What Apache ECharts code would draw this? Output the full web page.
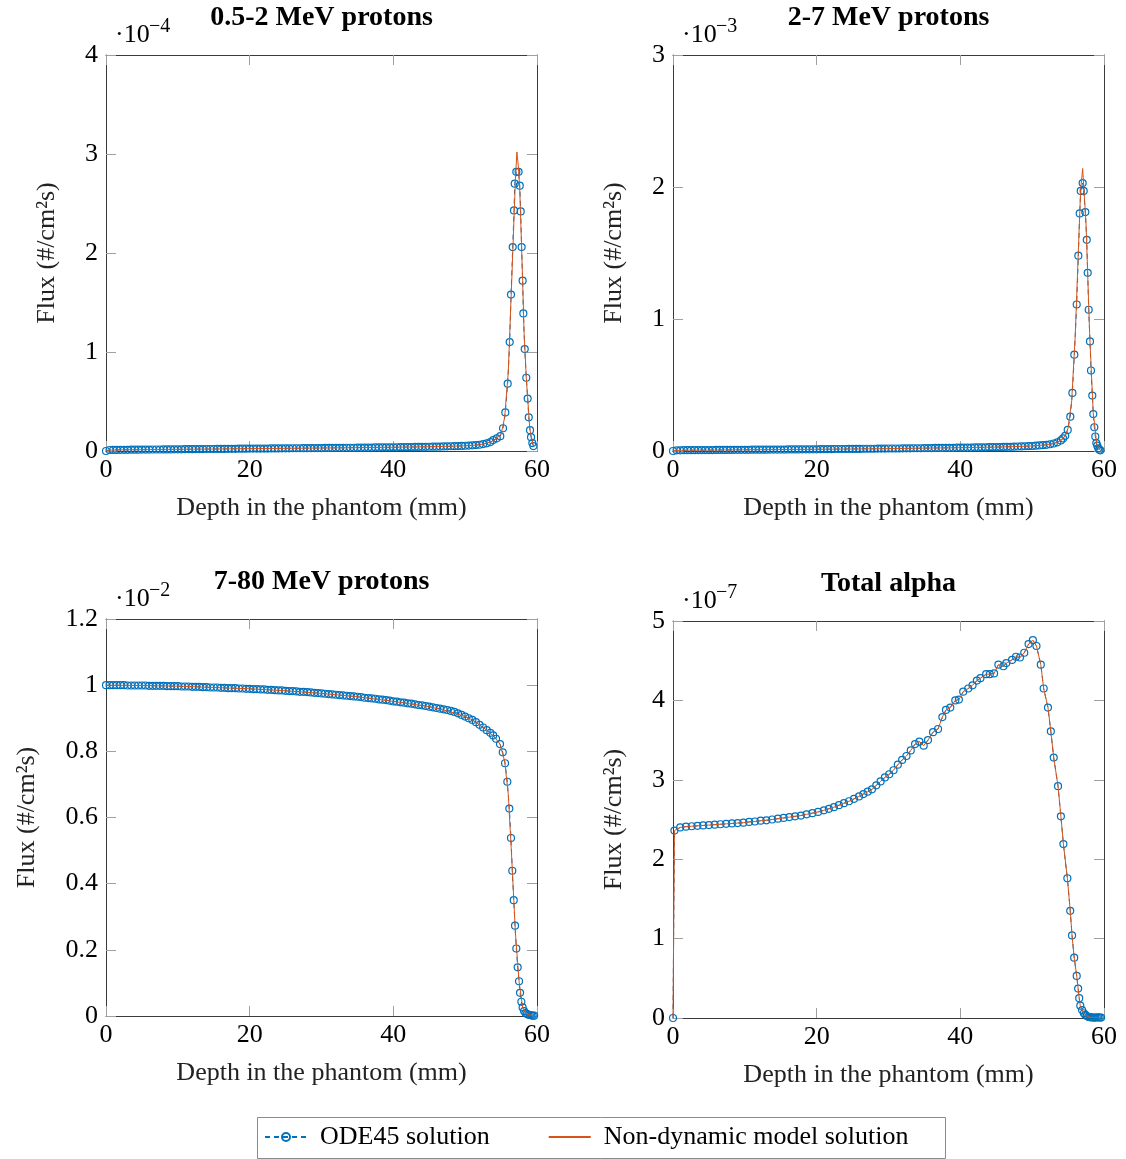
<!DOCTYPE html>
<html>
<head>
<meta charset="utf-8">
<script src="https://cdn.jsdelivr.net/npm/echarts@6/dist/echarts.min.js"></script>
<style>
html,body{margin:0;padding:0;background:#fff;}
#chart{width:1126px;height:1159px;}
</style>
</head>
<body>
<div id="chart"></div>
<script>
// ---------- DATA ----------
const titles = ['0.5-2 MeV protons', '2-7 MeV protons', '7-80 MeV protons', 'Total alpha'];
const exponents = ['\u22124', '\u22123', '\u22122', '\u22127'];
const yMax = [4, 3, 1.2, 5];
const yInterval = [1, 1, 0.2, 1];
const xTicks = [0, 20, 40, 60];

// shared plateau depths (mm) for the three proton panels
const plateauDepth = [0,0.5,1,1.5,2,2.5,3,3.5,4,4.5,5,5.5,6,6.5,7,7.5,8,8.5,9,9.5,10,10.5,11,11.5,12,12.5,13,13.5,14,14.5,15,15.5,16,16.5,17,17.5,18,18.5,19,19.5,20,20.5,21,21.5,22,22.5,23,23.5,24,24.5,25,25.5,26,26.5,27,27.5,28,28.5,29,29.5,30,30.5,31,31.5,32,32.5,33,33.5,34,34.5,35,35.5,36,36.5,37,37.5,38,38.5,39,39.5,40,40.5,41,41.5,42,42.5,43,43.5,44,44.5,45,45.5,46,46.5,47,47.5,48,48.5,49,49.5,50,50.5,51,51.5,52];

// Panel 1: 0.5-2 MeV protons (x1e-4)
const p1PlateauFlux = [0.000,
 0.010,0.011,0.011,0.012,0.012,0.012,0.013,0.013,0.013,0.014,
 0.014,0.014,0.015,0.015,0.015,0.016,0.016,0.016,0.017,0.017,
 0.017,0.018,0.018,0.018,0.019,0.019,0.019,0.020,0.020,0.020,
 0.021,0.021,0.021,0.022,0.022,0.022,0.023,0.023,0.023,0.024,
 0.024,0.024,0.025,0.025,0.025,0.026,0.026,0.026,0.027,0.027,
 0.027,0.028,0.028,0.028,0.029,0.029,0.029,0.030,0.030,0.030,
 0.031,0.031,0.031,0.032,0.032,0.032,0.033,0.033,0.033,0.034,
 0.034,0.035,0.035,0.035,0.036,0.036,0.037,0.037,0.037,0.038,
 0.038,0.039,0.039,0.040,0.040,0.041,0.041,0.042,0.042,0.043,
 0.044,0.044,0.045,0.046,0.047,0.048,0.049,0.050,0.051,0.053,
 0.055,0.057,0.060,0.063];
const p1TailDepth = [52.5,53,53.5,53.9,54.4,54.89,55.27,55.59,55.92,56.2,56.38,56.62,56.8,56.9,57.12,57.44,57.6,57.73,57.86,58.0,58.1,58.29,58.51,58.7,58.85,59.03,59.17,59.35,59.5];
const p1TailFlux = [0.070,0.078,0.090,0.110,0.128,0.150,0.230,0.390,0.680,1.100,1.580,2.060,2.430,2.700,2.820,2.820,2.680,2.420,2.060,1.720,1.390,1.030,0.740,0.530,0.340,0.210,0.140,0.080,0.050];
const p1ModelDepth = [0,2,5,10,15,20,25,30,35,40,45,48,50,51,52,53,54,54.5,55,55.5,56,56.5,57,57.2,57.4,57.6,58,58.2,58.5,59,59.5];
const p1ModelFlux = [0.008,0.011,0.014,0.017,0.020,0.024,0.027,0.030,0.034,0.038,0.043,0.048,0.053,0.057,0.063,0.078,0.105,0.135,0.170,0.340,0.800,1.750,2.750,3.020,2.880,2.640,1.720,1.200,0.750,0.220,0.050];

// Panel 2: 2-7 MeV protons (x1e-3)
const p2PlateauFlux = [0.000,
 0.005,0.005,0.006,0.006,0.006,0.006,0.007,0.007,0.007,0.007,
 0.007,0.008,0.008,0.008,0.008,0.008,0.009,0.009,0.009,0.009,
 0.009,0.010,0.010,0.010,0.010,0.010,0.011,0.011,0.011,0.011,
 0.011,0.012,0.012,0.012,0.012,0.013,0.013,0.013,0.013,0.013,
 0.014,0.014,0.014,0.014,0.015,0.015,0.015,0.015,0.016,0.016,
 0.016,0.016,0.017,0.017,0.017,0.017,0.018,0.018,0.018,0.019,
 0.019,0.019,0.019,0.020,0.020,0.020,0.021,0.021,0.021,0.022,
 0.022,0.022,0.023,0.023,0.023,0.024,0.024,0.024,0.025,0.025,
 0.026,0.026,0.026,0.027,0.027,0.028,0.028,0.029,0.029,0.030,
 0.030,0.031,0.032,0.032,0.033,0.034,0.035,0.036,0.037,0.038,
 0.040,0.042,0.044,0.047];
const p2TailDepth = [52.5,53,53.5,54,54.3,54.6,54.95,55.31,55.6,55.87,56.2,56.43,56.62,56.76,57.03,57.17,57.4,57.6,57.73,57.87,58.05,58.19,58.37,58.51,58.65,58.79,58.93,59.07,59.2,59.35,59.5];
const p2TailFlux = [0.051,0.057,0.066,0.080,0.095,0.115,0.160,0.260,0.440,0.730,1.110,1.480,1.800,1.970,2.030,1.970,1.810,1.600,1.350,1.070,0.830,0.610,0.420,0.280,0.180,0.110,0.060,0.040,0.020,0.010,0.005];
const p2ModelDepth = [0,2,5,10,15,20,25,30,35,40,45,48,50,52,53,54,54.6,55,55.5,56,56.5,56.75,57.03,57.5,58,58.5,59,59.5];
const p2ModelFlux = [0.004,0.006,0.007,0.009,0.011,0.013,0.015,0.018,0.022,0.025,0.030,0.034,0.038,0.047,0.057,0.080,0.115,0.175,0.380,0.880,1.620,1.980,2.140,1.720,0.890,0.290,0.050,0.005];

// Panel 3: 7-80 MeV protons (x1e-2)
const p3PlateauFlux = [1.000,
 1.000,1.000,1.000,1.000,1.000,0.999,0.999,0.999,0.999,0.999,
 0.999,0.998,0.998,0.998,0.998,0.998,0.997,0.997,0.997,0.997,
 0.996,0.996,0.996,0.995,0.995,0.995,0.994,0.994,0.993,0.993,
 0.993,0.992,0.992,0.991,0.991,0.991,0.990,0.990,0.989,0.989,
 0.988,0.988,0.987,0.987,0.986,0.986,0.985,0.984,0.984,0.983,
 0.982,0.982,0.981,0.980,0.980,0.979,0.978,0.977,0.976,0.975,
 0.974,0.973,0.972,0.971,0.970,0.969,0.968,0.967,0.966,0.965,
 0.964,0.962,0.961,0.960,0.959,0.957,0.956,0.955,0.953,0.951,
 0.950,0.948,0.947,0.945,0.944,0.942,0.940,0.939,0.937,0.935,
 0.933,0.931,0.929,0.927,0.925,0.922,0.919,0.915,0.910,0.905,
 0.900,0.895,0.888,0.880];
const p3TailDepth = [52.5,53,53.5,53.9,54.3,54.85,55.23,55.55,55.87,56.15,56.38,56.56,56.76,56.94,57.12,57.31,57.5,57.64,57.82,58.0,58.2,58.4,58.6,58.8,59.0,59.2,59.4,59.6];
const p3TailFlux = [0.872,0.864,0.856,0.848,0.838,0.822,0.797,0.764,0.708,0.627,0.538,0.439,0.350,0.273,0.204,0.147,0.105,0.070,0.043,0.026,0.015,0.009,0.006,0.004,0.003,0.002,0.001,0.001];
const p3ModelDepth = [0,5,10,15,20,25,30,35,40,45,48,50,51,52,53,54,54.85,55.5,56,56.5,57,57.5,58,58.5,59,59.6];
const p3ModelFlux = [1.000,0.999,0.997,0.993,0.989,0.983,0.975,0.965,0.951,0.935,0.919,0.905,0.895,0.880,0.864,0.845,0.822,0.770,0.670,0.470,0.250,0.105,0.026,0.007,0.003,0.001];

// Panel 4: Total alpha (x1e-7)
const p4Depth = [0,0.2,1,1.8,2.6,3.4,4.2,5,5.8,6.6,7.4,8.2,9,9.8,10.6,11.4,12.2,13,13.8,14.6,15.4,16.2,17,17.8,18.6,19.4,20.2,21,21.7,22.4,23.1,23.8,24.5,25.2,25.9,26.5,27.1,27.7,28.3,28.9,29.5,30.1,30.7,31.3,31.9,32.5,33.1,33.7,34.3,34.9,35.5,36.2,36.9,37.5,38.0,38.6,39.3,39.8,40.4,41.1,41.7,42.3,42.8,43.6,44.1,44.7,45.3,46.0,46.4,47.2,47.75,48.3,48.9,49.5,50.1,50.6,51.2,51.6,52.2,52.6,53.0,53.6,54.0,54.35,54.9,55.3,55.55,55.85,56.2,56.4,56.55,56.7,56.95,57.2,57.4,57.6,57.8,58.0,58.2,58.4,58.6,58.8,59.0,59.2,59.4,59.6];
const p4Flux = [0,2.36,2.40,2.41,2.415,2.42,2.425,2.43,2.435,2.44,2.445,2.45,2.455,2.46,2.47,2.475,2.485,2.49,2.50,2.51,2.52,2.53,2.54,2.55,2.565,2.58,2.595,2.615,2.635,2.655,2.68,2.705,2.73,2.76,2.79,2.82,2.85,2.88,2.93,2.98,3.03,3.07,3.12,3.19,3.25,3.30,3.37,3.45,3.48,3.43,3.50,3.60,3.64,3.79,3.88,3.91,4.00,4.01,4.11,4.15,4.19,4.25,4.28,4.33,4.33,4.34,4.45,4.43,4.47,4.51,4.55,4.54,4.60,4.71,4.76,4.685,4.45,4.15,3.91,3.61,3.28,2.92,2.54,2.19,1.76,1.35,1.04,0.76,0.53,0.37,0.25,0.155,0.10,0.06,0.04,0.025,0.015,0.01,0.008,0.006,0.005,0.005,0.006,0.008,0.006,0.005];
const p4ModelDepth = p4Depth;
const p4ModelFlux = p4Flux;

// ---------- BUILD ----------
const BLUE = '#0072BD', RED = '#D95319';
const FONT = '"Liberation Serif", "DejaVu Serif", serif';
const FS = 26;
const zip = (xs, ys) => xs.map((x, i) => [x, ys[i]]);

const odeData = [
  zip(plateauDepth.concat(p1TailDepth), p1PlateauFlux.concat(p1TailFlux)),
  zip(plateauDepth.concat(p2TailDepth), p2PlateauFlux.concat(p2TailFlux)),
  zip(plateauDepth.concat(p3TailDepth), p3PlateauFlux.concat(p3TailFlux)),
  zip(p4Depth, p4Flux)
];
const modelData = [
  zip(p1ModelDepth, p1ModelFlux),
  zip(p2ModelDepth, p2ModelFlux),
  zip(p3ModelDepth, p3ModelFlux),
  zip(p4ModelDepth, p4ModelFlux)
];

const gridBoxes = [
  {left:106, top:55, width:431, height:396},
  {left:673, top:55, width:431, height:396},
  {left:106, top:619, width:431, height:397},
  {left:673, top:621, width:431, height:397}
];
const yNameGap = [46, 46, 66, 46];

const grids = [], xAxes = [], yAxes = [], series = [], graphics = [];
const axisLine = {show:true, onZero:false, lineStyle:{color:'#3a3a3a', width:1}};
const tick = {show:true, inside:true, length:10, lineStyle:{color:'#a0a0a0', width:1}};
gridBoxes.forEach((g, i) => {
  grids.push(Object.assign({containLabel:false}, g));
  xAxes.push({
    type:'value', gridIndex:i, min:xTicks[0], max:xTicks[xTicks.length-1], interval:20,
    position:'bottom', axisLine, axisTick:tick, splitLine:{show:false},
    axisLabel:{color:'#000', fontFamily:FONT, fontSize:FS, margin:6},
    name:'Depth in the phantom (mm)', nameLocation:'middle', nameGap:44,
    nameTextStyle:{color:'#222', fontFamily:FONT, fontSize:FS}
  });
  xAxes.push({
    type:'value', gridIndex:i, min:xTicks[0], max:xTicks[xTicks.length-1], interval:20,
    position:'top', axisLine, axisTick:tick, splitLine:{show:false}, axisLabel:{show:false}
  });
  yAxes.push({
    type:'value', gridIndex:i, min:0, max:yMax[i], interval:yInterval[i],
    position:'left', axisLine, axisTick:tick, splitLine:{show:false},
    axisLabel:{color:'#000', fontFamily:FONT, fontSize:FS, margin:8},
    name:'Flux (#/cm\u00B2s)', nameLocation:'middle', nameGap:yNameGap[i], nameRotate:90,
    nameTextStyle:{color:'#222', fontFamily:FONT, fontSize:FS}
  });
  yAxes.push({
    type:'value', gridIndex:i, min:0, max:yMax[i], interval:yInterval[i],
    position:'right', axisLine, axisTick:tick, splitLine:{show:false}, axisLabel:{show:false}
  });
  series.push({
    type:'line', name:'ODE45 solution', xAxisIndex:2*i, yAxisIndex:2*i,
    data:odeData[i], symbol:'circle', symbolSize:7, showSymbol:true,
    lineStyle:{color:BLUE, width:1, type:[5,4]},
    itemStyle:{color:'rgba(255,255,255,0)', borderColor:BLUE, borderWidth:1.2},
    emphasis:{disabled:true}, z:2
  });
  series.push({
    type:'line', name:'Non-dynamic model solution', xAxisIndex:2*i, yAxisIndex:2*i,
    data:modelData[i], symbol:'none', showSymbol:false,
    lineStyle:{color:RED, width:1}, itemStyle:{color:RED},
    emphasis:{disabled:true}, z:3
  });
  const cx = g.left + g.width/2;
  graphics.push({type:'text', x:cx, y:g.top - 37, style:{text:titles[i], fill:'#000', font:'bold 28px ' + FONT, textAlign:'center', textVerticalAlign:'middle', align:'center', verticalAlign:'middle'}});
  graphics.push({type:'text', x:g.left + 9, y:g.top - 20, style:{text:'\u00B710', fill:'#000', font:'26px ' + FONT, textAlign:'left', textVerticalAlign:'middle', align:'left', verticalAlign:'middle'}});
  graphics.push({type:'text', x:g.left + 43, y:g.top - 28, style:{text:exponents[i], fill:'#000', font:'20px ' + FONT, textAlign:'left', textVerticalAlign:'middle', align:'left', verticalAlign:'middle'}});
});
graphics.push({type:'rect', shape:{x:257.5, y:1117.5, width:688, height:41}, style:{fill:'none', stroke:'#8a8a8a', lineWidth:1}, silent:true});

const chart = echarts.init(document.getElementById('chart'), null, {renderer:'canvas'});
chart.setOption({
  animation:false,
  backgroundColor:'#fff',
  grid:grids, xAxis:xAxes, yAxis:yAxes, series,
  legend:{
    data:[
      {name:'ODE45 solution'},
      {name:'Non-dynamic model solution', itemStyle:{opacity:0}}
    ],
    left:264, top:1124, itemWidth:42, itemHeight:10, itemGap:58, padding:0,
    textStyle:{color:'#000', fontFamily:FONT, fontSize:FS, padding:[0,0,0,8]},
    selectedMode:false
  },
  graphic:graphics
});
</script>
</body>
</html>
